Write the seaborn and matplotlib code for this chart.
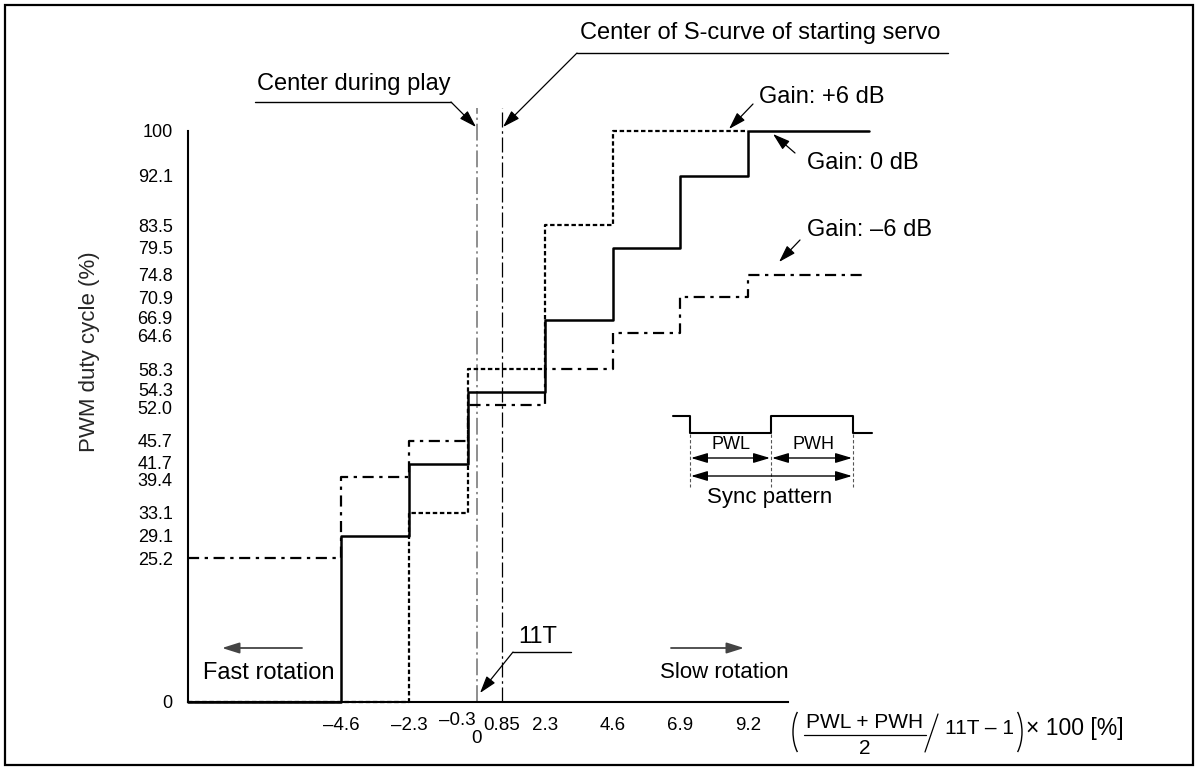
import matplotlib
matplotlib.use("Agg")
import matplotlib.pyplot as plt
import matplotlib.transforms as mtransforms
import seaborn as sns
import pandas as pd
from matplotlib.patches import Rectangle, Arc
from matplotlib.lines import Line2D
from matplotlib.text import Annotation

# ---------------- data ----------------
x_gain_0db = [-9.8, -4.6, -2.3, -0.3, 2.3, 4.6, 6.9, 9.2, 13.3]
duty_gain_0db = [0, 29.1, 41.7, 54.3, 66.9, 79.5, 92.1, 100, 100]

x_gain_p6db = [-9.8, -2.3, -0.3, 2.3, 4.6, 9.2]
duty_gain_p6db = [0, 33.1, 58.3, 83.5, 100, 100]

x_gain_m6db = [-9.8, -4.6, -2.3, -0.3, 2.3, 4.6, 6.9, 9.2, 13.2]
duty_gain_m6db = [25.2, 39.4, 45.7, 52.0, 58.3, 64.6, 70.9, 74.8, 74.8]

center_play = 0.0
center_scurve = 0.85

x_ticks = [-4.6, -2.3, -0.3, 0, 0.85, 2.3, 4.6, 6.9, 9.2]
x_tick_labels = ["–4.6", "–2.3", "", "", "0.85", "2.3", "4.6", "6.9", "9.2"]
y_ticks = [0, 25.2, 29.1, 33.1, 39.4, 41.7, 45.7, 52.0, 54.3, 58.3, 64.6,
           66.9, 70.9, 74.8, 79.5, 83.5, 92.1, 100]
y_tick_labels = ["0", "25.2", "29.1", "33.1", "39.4", "41.7", "45.7", "52.0",
                 "54.3", "58.3", "64.6", "66.9", "70.9", "74.8", "79.5",
                 "83.5", "92.1", "100"]

# ---------------- style ----------------
sns.set_theme(style="white")
plt.rcParams["font.family"] = ["Liberation Sans", "DejaVu Sans"]
plt.rcParams["text.color"] = "black"

W, H = 1200, 771
fig = plt.figure(figsize=(W / 100, H / 100), dpi=100)
fig.patch.set_facecolor("white")


def fx(px):
    return px / W


def fy(py):
    return 1 - py / H


def F(px, py):
    return (fx(px), fy(py))


ax = fig.add_axes([fx(188), fy(702), (872 - 188) / W, (702 - 108) / H])
ax.set_facecolor("white")

df0 = pd.DataFrame({"x": x_gain_0db, "duty": duty_gain_0db})
dfp = pd.DataFrame({"x": x_gain_p6db, "duty": duty_gain_p6db})
dfm = pd.DataFrame({"x": x_gain_m6db, "duty": duty_gain_m6db})

sns.lineplot(data=dfp, x="x", y="duty", ax=ax, estimator=None, sort=False,
             drawstyle="steps-post", color="black", lw=1.6,
             linestyle=(0, (2, 1.2)), clip_on=False, zorder=3)
sns.lineplot(data=dfm, x="x", y="duty", ax=ax, estimator=None, sort=False,
             drawstyle="steps-post", color="black", lw=1.6,
             linestyle=(0, (5, 2.5, 1.5, 2.5)), clip_on=False, zorder=3)
sns.lineplot(data=df0, x="x", y="duty", ax=ax, estimator=None, sort=False,
             drawstyle="steps-post", color="black", lw=1.8,
             clip_on=False, zorder=4)

ax.axvline(center_play, color="#707070", lw=1.1,
           linestyle=(0, (11, 2.5, 1.5, 2.5)), zorder=2)
ax.axvline(center_scurve, color="black", lw=0.9,
           linestyle=(0, (12, 3, 2, 3)), zorder=2)

ax.set_xlim(-9.8, 13.4)
ax.set_ylim(0, 104)
sns.despine(ax=ax)
for s in ("left", "bottom"):
    ax.spines[s].set_color("black")
    ax.spines[s].set_linewidth(1.5)
ax.spines["left"].set_bounds(0, 100)
ax.spines["bottom"].set_bounds(-9.8, 10.55)

ax.set_xticks(x_ticks)
ax.set_xticklabels(x_tick_labels)
ax.set_yticks(y_ticks)
ax.set_yticklabels(y_tick_labels)
ax.tick_params(axis="x", direction="out", length=7, width=1.1, pad=3.5,
               labelsize=13.5, colors="black")
ax.tick_params(axis="y", direction="out", length=8, width=1.1, pad=3,
               labelsize=13, colors="black")
ax.set_xlabel("")
ax.set_ylabel("PWM duty cycle (%)", fontsize=16)
ax.yaxis.set_label_coords(-0.129, 0.589)

# spread crowded y tick labels a little, as in the original drawing
nudge_px = {"66.9": 2, "64.6": -2, "54.3": 2, "52.0": -2, "41.7": 1,
            "39.4": -3}
for lbl in ax.get_yticklabels():
    d = nudge_px.get(lbl.get_text())
    if d:
        lbl.set_transform(lbl.get_transform() + mtransforms.ScaledTranslation(
            0, d / 100, fig.dpi_scale_trans))

# special x tick labels
ax.annotate("–0.3", xy=(-0.3, 0), xycoords="data", xytext=(-8, -13),
            textcoords="offset points", ha="center", va="center",
            fontsize=13.5, annotation_clip=False)
ax.annotate("0", xy=(0, 0), xycoords="data", xytext=(0, -26),
            textcoords="offset points", ha="center", va="center",
            fontsize=13.5, annotation_clip=False)

# ---------------- annotations ----------------
ARW = dict(arrowstyle="-|>,head_length=1.05,head_width=0.33",
           mutation_scale=10, lw=0.9, color="black", shrinkA=0, shrinkB=0)


def arrow(tail, tip, **kw):
    props = dict(ARW)
    props.update(kw)
    fig.add_artist(Annotation(
        "", xy=F(*tip), xycoords="figure fraction", xytext=F(*tail),
        textcoords="figure fraction", arrowprops=props))


def hline(x0, x1, y, lw=1.0, color="black"):
    fig.add_artist(Line2D([fx(x0), fx(x1)], [fy(y), fy(y)], lw=lw,
                          color=color, transform=fig.transFigure))


def seg(p0, p1, lw=1.0, color="black", ls="-"):
    fig.add_artist(Line2D([fx(p0[0]), fx(p1[0])], [fy(p0[1]), fy(p1[1])],
                          lw=lw, color=color, ls=ls,
                          transform=fig.transFigure))


BIG = 17

fig.text(*F(580, 33), "Center of S-curve of starting servo", fontsize=BIG,
         ha="left", va="center")
hline(577, 948, 53)
arrow((577, 53), (503, 127))

fig.text(*F(257, 84), "Center during play", fontsize=BIG, ha="left",
         va="center")
hline(255, 451, 102)
arrow((451, 102), (476, 127))

fig.text(*F(759, 97), "Gain: +6 dB", fontsize=BIG, ha="left", va="center")
arrow((753, 104), (729, 129))

fig.text(*F(807, 163), "Gain: 0 dB", fontsize=BIG, ha="left", va="center")
arrow((795, 153), (773, 134))

fig.text(*F(807, 230), "Gain: –6 dB", fontsize=BIG, ha="left", va="center")
arrow((800, 240), (779, 262))

fig.text(*F(518, 637), "11T", fontsize=BIG, ha="left", va="center")
hline(513, 571, 652)
arrow((513, 652), (480, 693))

fig.text(*F(203, 673), "Fast rotation", fontsize=BIG, ha="left",
         va="center")
arrow((302, 648), (222, 648), color="#444444", lw=1.3)

fig.text(*F(660, 673), "Slow rotation", fontsize=16, ha="left",
         va="center")
arrow((671, 648), (744, 648), color="#444444", lw=1.3)

# ---------------- sync pattern inset ----------------
wave_x = [673, 690, 690, 771, 771, 853, 853, 872]
wave_y = [416, 416, 433, 433, 416, 416, 433, 433]
fig.add_artist(Line2D([fx(v) for v in wave_x], [fy(v) for v in wave_y],
                      lw=1.5, color="black", transform=fig.transFigure))
for xv in (690, 771, 853):
    seg((xv, 434), (xv, 487), lw=0.8, color="#555555", ls=(0, (3, 2)))
DBL = dict(arrowstyle="<|-|>,head_length=1.0,head_width=0.3",
           mutation_scale=10, lw=1.0, color="black", shrinkA=0, shrinkB=0)
arrow((691, 458), (770, 458), **DBL)
arrow((772, 458), (852, 458), **DBL)
arrow((691, 476), (852, 476), **DBL)
fig.text(*F(731, 445), "PWL", fontsize=13, ha="center", va="center")
fig.text(*F(813, 445), "PWH", fontsize=13, ha="center", va="center")
fig.text(*F(770, 497), "Sync pattern", fontsize=16, ha="center",
         va="center")

# ---------------- x-axis formula label ----------------
FS = 15
fig.text(*F(865, 722), "PWL + PWH", fontsize=FS, ha="center", va="center")
hline(804, 926, 735, lw=0.9)
fig.text(*F(865, 748), "2", fontsize=FS, ha="center", va="center")
seg((925, 752), (938, 714), lw=0.9)
fig.text(*F(945, 729), "11T – 1", fontsize=FS, ha="left", va="center")
fig.text(*F(1026, 729), "× 100 [%]", fontsize=16.5, ha="left", va="center")
fig.add_artist(Arc((809 / 100, (H - 732) / 100), 32 / 100, 58 / 100,
                   theta1=120, theta2=240, lw=1.0, color="black",
                   transform=fig.dpi_scale_trans))
fig.add_artist(Arc((1006 / 100, (H - 732) / 100), 32 / 100, 58 / 100,
                   theta1=-60, theta2=60, lw=1.0, color="black",
                   transform=fig.dpi_scale_trans))

# ---------------- outer frame ----------------
fig.add_artist(Rectangle((fx(5), fy(765)), (1193 - 5) / W, (765 - 5) / H,
                         transform=fig.transFigure, fill=False, lw=1.6,
                         ec="black"))

fig.savefig("out.png", dpi=100, facecolor="white")
